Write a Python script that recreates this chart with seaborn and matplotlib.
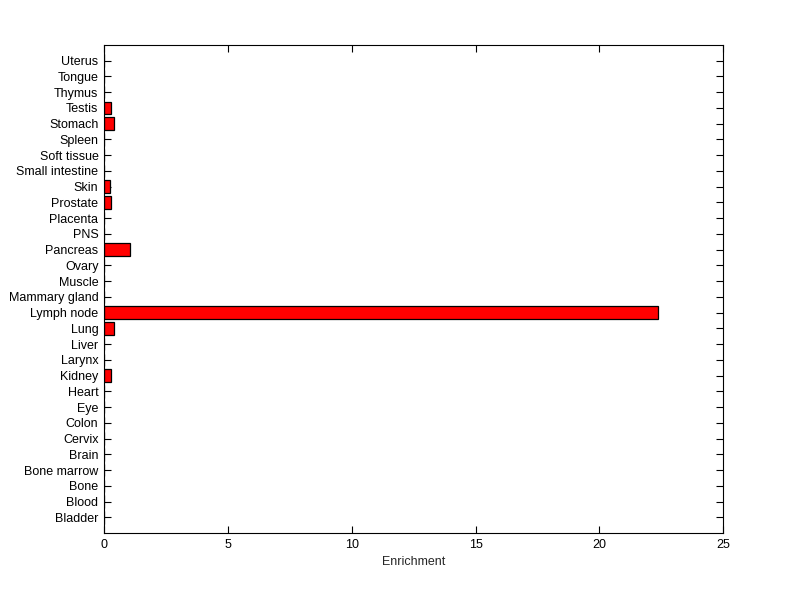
import matplotlib
matplotlib.use("Agg")

import pandas as pd
import seaborn as sns
import matplotlib.pyplot as plt


# tissues, bottom to top as in the figure
tissues = [
    "Bladder", "Blood", "Bone", "Bone marrow", "Brain", "Cervix", "Colon",
    "Eye", "Heart", "Kidney", "Larynx", "Liver", "Lung", "Lymph node",
    "Mammary gland", "Muscle", "Ovary", "Pancreas", "PNS", "Placenta",
    "Prostate", "Skin", "Small intestine", "Soft tissue", "Spleen",
    "Stomach", "Testis", "Thymus", "Tongue", "Uterus",
]
enrichment = [
    0, 0, 0, 0, 0, 0, 0,
    0, 0, 0.30, 0, 0, 0.42, 22.37,
    0, 0, 0, 1.05, 0, 0,
    0.30, 0.25, 0, 0, 0,
    0.40, 0.30, 0, 0, 0,
]

df = pd.DataFrame({"Tissue": tissues, "Enrichment": enrichment})

sns.set_theme(style="white")
plt.rcParams["font.family"] = ["Liberation Sans", "DejaVu Sans"]

fig = plt.figure(figsize=(8, 5.99), dpi=100)
ax = fig.add_axes([0.13, 0.11, 0.774, 0.815])

sns.barplot(
    data=df,
    y="Tissue",
    x="Enrichment",
    order=tissues[::-1],
    orient="h",
    color="#ff0000",
    saturation=1,
    edgecolor="black",
    linewidth=0.9,
    width=0.8,
    ax=ax,
)

ax.set_xlim(0, 25)
ax.set_ylim(30, -1)
ax.set_xticks([0, 5, 10, 15, 20, 25])
ax.set_xlabel("Enrichment", fontsize=9)
ax.set_ylabel("")

ax.tick_params(
    axis="both", direction="in", length=5, width=0.8,
    bottom=True, left=True, top=True, right=True,
    labelsize=9, colors="black", pad=4,
)
for s in ax.spines.values():
    s.set_color("black")
    s.set_linewidth(0.8)

fig.savefig("out.png", dpi=100)
